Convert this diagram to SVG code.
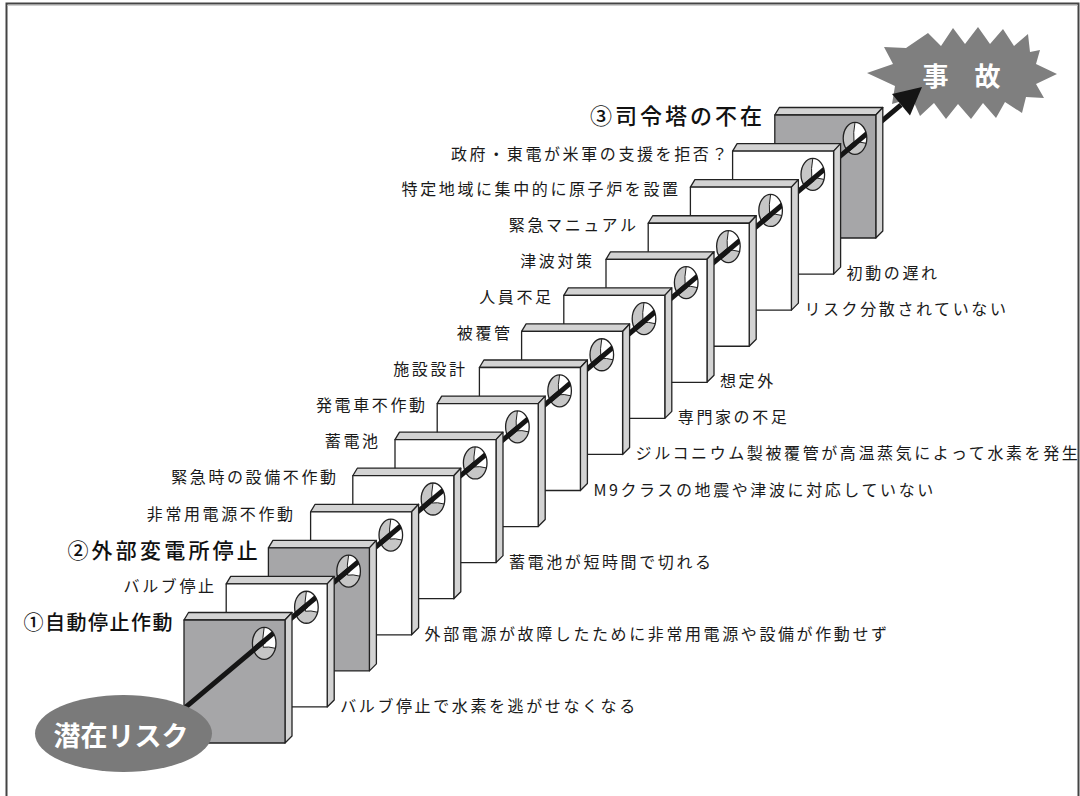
<svg xmlns="http://www.w3.org/2000/svg" width="1080" height="796" viewBox="0 0 1080 796">
<defs>
<style>
.lbl{font-family:"Noto Sans CJK JP","Noto Sans",sans-serif;font-size:16px;letter-spacing:2.6px;fill:#1a1a1a}
.big{font-family:"Noto Sans CJK JP","Noto Sans",sans-serif;font-weight:500;fill:#111}
.face{stroke:#222;stroke-width:1.3;stroke-linejoin:round}
.gray{fill:#a6a6a8}
.white{fill:#fff}
.light{fill:#d3d3d3}
.risk{stroke:#151515;stroke-width:5;fill:none}
.hl{stroke:#222;stroke-width:1;fill:none}
</style>
<clipPath id="hc"><ellipse cx="80.2" cy="23.3" rx="11.8" ry="16"/></clipPath>
<g id="slabW">
<polygon class="face light" points="0,0 4.5,-7.5 108,-7.5 101,0"/>
<polygon class="face light" points="101,0 108,-7.5 108,116 101,123"/>
<rect class="face white" x="0" y="0" width="101" height="123"/>
</g>
<g id="slabG">
<polygon class="face light" points="0,0 4.5,-7.5 108,-7.5 101,0"/>
<polygon class="face light" points="101,0 108,-7.5 108,116 101,123"/>
<rect class="face gray" x="0" y="0" width="101" height="123"/>
</g>
<g id="hole" transform="translate(80.2,23.3)">
<ellipse cx="0" cy="0" rx="11.8" ry="16" fill="#c6c6c6"/>
<path d="M0,-16 A11.8,16 0 0,1 11.2,5 Q4,3 -1,4 Q-2,-6 0,-16 Z" fill="#fff"/>
<path class="hl" d="M0,-16 Q-2,-6 -1,4 Q4,3 11.2,5"/>
<ellipse cx="0" cy="0" rx="11.8" ry="16" fill="none" stroke="#222" stroke-width="1.3"/>
</g>
</defs>

<rect x="0" y="0" width="1080" height="796" fill="#fff"/>
<path d="M6.5,796 V3.5 H1078.5 V796" fill="none" stroke="#444" stroke-width="2"/>
<line x1="7.5" y1="5.5" x2="1077.5" y2="5.5" stroke="#cfcfcf" stroke-width="1"/>

<g id="accident">
<polygon fill="#7f7f7f" points="867,73 893,64 884,47 906,48 928,33 941,46 953,28 965,44 978,27 990,44 1003,29 1014,46 1028,34 1030,52 1040,50 1036,64 1057,74 1036,84 1044,98 1026,97 1022,113 1005,102 996,118 983,103 971,119 958,104 946,119 934,103 920,116 912,98 892,104 895,86"/>
<text x="961.5" y="86" text-anchor="middle" font-family="'Noto Sans CJK JP',sans-serif" font-weight="700" font-size="26" fill="#fff">事　故</text>
</g>

<g id="connectors">
<line class="risk" x1="855" y1="143.6" x2="901" y2="104.8"/>
<polygon points="922,87 910,115.5 892,94.1" fill="#151515"/>
</g>

<g id="slab-15" transform="translate(774.8,115.02)">
<use href="#slabG"/><use href="#hole"/>
<g clip-path="url(#hc)"><line class="risk" x1="60" y1="45.57" x2="100" y2="11.89"/></g>
<line class="risk" x1="38" y1="64.09" x2="80.2" y2="28.56"/>
</g>
<g id="slab-14" transform="translate(732.6,151.09)">
<use href="#slabW"/><use href="#hole"/>
<g clip-path="url(#hc)"><line class="risk" x1="60" y1="45.03" x2="100" y2="11.35"/></g>
<line class="risk" x1="38" y1="63.55" x2="80.2" y2="28.02"/>
</g>
<g id="slab-13" transform="translate(690.4,187.16)">
<use href="#slabW"/><use href="#hole"/>
<g clip-path="url(#hc)"><line class="risk" x1="60" y1="44.49" x2="100" y2="10.81"/></g>
<line class="risk" x1="38" y1="63.01" x2="80.2" y2="27.48"/>
</g>
<g id="slab-12" transform="translate(648.2,223.23)">
<use href="#slabW"/><use href="#hole"/>
<g clip-path="url(#hc)"><line class="risk" x1="60" y1="43.95" x2="100" y2="10.27"/></g>
<line class="risk" x1="38" y1="62.47" x2="80.2" y2="26.94"/>
</g>
<g id="slab-11" transform="translate(606,259.3)">
<use href="#slabW"/><use href="#hole"/>
<g clip-path="url(#hc)"><line class="risk" x1="60" y1="43.41" x2="100" y2="9.73"/></g>
<line class="risk" x1="38" y1="61.93" x2="80.2" y2="26.40"/>
</g>
<g id="slab-10" transform="translate(563.8,295.37)">
<use href="#slabW"/><use href="#hole"/>
<g clip-path="url(#hc)"><line class="risk" x1="60" y1="42.87" x2="100" y2="9.19"/></g>
<line class="risk" x1="38" y1="61.39" x2="80.2" y2="25.86"/>
</g>
<g id="slab-9" transform="translate(521.6,331.44)">
<use href="#slabW"/><use href="#hole"/>
<g clip-path="url(#hc)"><line class="risk" x1="60" y1="42.33" x2="100" y2="8.65"/></g>
<line class="risk" x1="38" y1="60.85" x2="80.2" y2="25.32"/>
</g>
<g id="slab-8" transform="translate(479.4,367.51)">
<use href="#slabW"/><use href="#hole"/>
<g clip-path="url(#hc)"><line class="risk" x1="60" y1="41.79" x2="100" y2="8.11"/></g>
<line class="risk" x1="38" y1="60.31" x2="80.2" y2="24.78"/>
</g>
<g id="slab-7" transform="translate(437.2,403.58)">
<use href="#slabW"/><use href="#hole"/>
<g clip-path="url(#hc)"><line class="risk" x1="60" y1="41.25" x2="100" y2="7.57"/></g>
<line class="risk" x1="38" y1="59.77" x2="80.2" y2="24.24"/>
</g>
<g id="slab-6" transform="translate(395,439.65)">
<use href="#slabW"/><use href="#hole"/>
<g clip-path="url(#hc)"><line class="risk" x1="60" y1="40.71" x2="100" y2="7.03"/></g>
<line class="risk" x1="38" y1="59.23" x2="80.2" y2="23.70"/>
</g>
<g id="slab-5" transform="translate(352.8,475.72)">
<use href="#slabW"/><use href="#hole"/>
<g clip-path="url(#hc)"><line class="risk" x1="60" y1="40.17" x2="100" y2="6.49"/></g>
<line class="risk" x1="38" y1="58.69" x2="80.2" y2="23.16"/>
</g>
<g id="slab-4" transform="translate(310.6,511.79)">
<use href="#slabW"/><use href="#hole"/>
<g clip-path="url(#hc)"><line class="risk" x1="60" y1="39.63" x2="100" y2="5.95"/></g>
<line class="risk" x1="38" y1="58.15" x2="80.2" y2="22.62"/>
</g>
<g id="slab-3" transform="translate(268.4,547.86)">
<use href="#slabG"/><use href="#hole"/>
<g clip-path="url(#hc)"><line class="risk" x1="60" y1="39.09" x2="100" y2="5.41"/></g>
<line class="risk" x1="38" y1="57.61" x2="80.2" y2="22.08"/>
</g>
<g id="slab-2" transform="translate(226.2,583.93)">
<use href="#slabW"/><use href="#hole"/>
<g clip-path="url(#hc)"><line class="risk" x1="60" y1="38.55" x2="100" y2="4.87"/></g>
<line class="risk" x1="38" y1="57.07" x2="80.2" y2="21.54"/>
</g>
<g id="slab-1" transform="translate(184,620)">
<use href="#slabG"/><use href="#hole"/>
<g clip-path="url(#hc)"><line class="risk" x1="60" y1="38.01" x2="100" y2="4.33"/></g>
<line class="risk" x1="-45" y1="126.4" x2="80.2" y2="21.0"/>
</g>

<g id="latent-risk">
<ellipse cx="123.5" cy="733.5" rx="88.5" ry="38.5" fill="#7a7a7a"/>
<text x="121" y="746" text-anchor="middle" font-family="'Noto Sans CJK JP',sans-serif" font-weight="700" font-size="27" fill="#fff">潜在リスク</text>
</g>

<g id="left-labels">
<text class="big" x="174" y="630" text-anchor="end" font-size="20" letter-spacing="1.5">①自動停止作動</text>
<text class="lbl" x="216.6" y="592" text-anchor="end">バルブ停止</text>
<text class="big" x="261" y="558" text-anchor="end" font-size="21" letter-spacing="3.2">②外部変電所停止</text>
<text class="lbl" x="295.6" y="519.5" text-anchor="end">非常用電源不作動</text>
<text class="lbl" x="338.6" y="483.4" text-anchor="end">緊急時の設備不作動</text>
<text class="lbl" x="380.6" y="447.3" text-anchor="end">蓄電池</text>
<text class="lbl" x="427.6" y="411.3" text-anchor="end">発電車不作動</text>
<text class="lbl" x="467.6" y="375.2" text-anchor="end">施設設計</text>
<text class="lbl" x="512.6" y="339.1" text-anchor="end">被覆管</text>
<text class="lbl" x="553.6" y="303.1" text-anchor="end">人員不足</text>
<text class="lbl" x="594.6" y="267" text-anchor="end">津波対策</text>
<text class="lbl" x="638.6" y="230.9" text-anchor="end">緊急マニュアル</text>
<text class="lbl" x="680.6" y="194.9" text-anchor="end">特定地域に集中的に原子炉を設置</text>
<text class="lbl" x="730" y="160" text-anchor="end">政府・東電が米軍の支援を拒否？</text>
<text class="big" x="765" y="124" text-anchor="end" font-size="22" letter-spacing="3">③司令塔の不在</text>
</g>

<g id="right-labels">
<text class="lbl" x="340.2" y="711.9">バルブ停止で水素を逃がせなくなる</text>
<text class="lbl" x="424.6" y="639.8">外部電源が故障したために非常用電源や設備が作動せず</text>
<text class="lbl" x="509" y="567.7">蓄電池が短時間で切れる</text>
<text class="lbl" x="593.4" y="495.5">M9クラスの地震や津波に対応していない</text>
<text class="lbl" x="635.6" y="459.4">ジルコニウム製被覆管が高温蒸気によって水素を発生</text>
<text class="lbl" x="677.8" y="423.4">専門家の不足</text>
<text class="lbl" x="720" y="387.3">想定外</text>
<text class="lbl" x="804.4" y="315.2">リスク分散されていない</text>
<text class="lbl" x="846.6" y="279.1">初動の遅れ</text>
</g>
</svg>
